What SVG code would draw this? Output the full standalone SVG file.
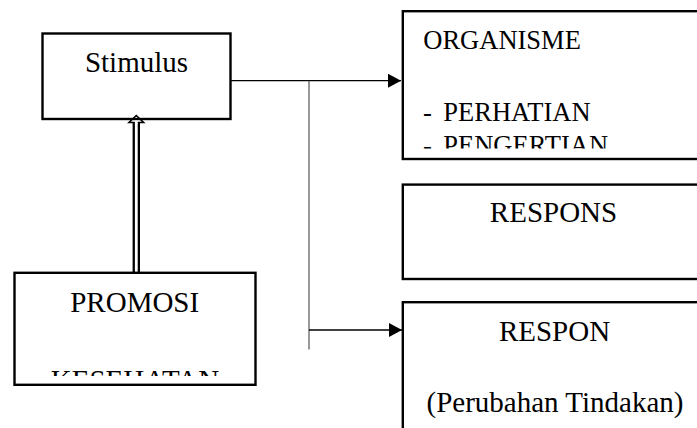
<svg xmlns="http://www.w3.org/2000/svg" width="697" height="428" viewBox="0 0 697 428">
<style>
.box{fill:#fff;stroke:#000;stroke-width:2.4}
.t{font-family:"Liberation Serif","Times New Roman",serif;font-size:29px;fill:#000}
.s{font-size:26.5px}
.c{text-anchor:middle}
.ln{stroke:#000;stroke-width:1.3;fill:none}
.gl{stroke:#555;stroke-width:1.2;fill:none}
</style>
<defs>
<marker id="ah" markerWidth="14" markerHeight="14" refX="13" refY="7" orient="auto" markerUnits="userSpaceOnUse">
<path d="M0,0 L13,7 L0,14 Z" fill="#000"/>
</marker>
<clipPath id="cOrg"><rect x="403" y="12" width="300" height="136.5"/></clipPath>
<clipPath id="cPro"><rect x="15" y="273" width="240" height="103"/></clipPath>
</defs>
<g id="connectors">
<line class="ln" x1="231" y1="80.7" x2="401" y2="80.7" marker-end="url(#ah)"/>
<line class="gl" x1="309" y1="80.7" x2="309" y2="349.5"/>
<line class="ln" x1="309" y1="330" x2="402" y2="330" marker-end="url(#ah)"/>
<line x1="136.3" y1="122" x2="136.3" y2="273" stroke="#000" stroke-width="7.4"/>
<line x1="136.3" y1="120" x2="136.3" y2="272" stroke="#fff" stroke-width="2.8"/>
<path d="M136.3,115.5 L129,122.5 L143.6,122.5 Z" fill="#fff" stroke="#000" stroke-width="1.6" stroke-linejoin="miter"/>
<line x1="136.3" y1="120.5" x2="136.3" y2="124" stroke="#fff" stroke-width="2.8"/>
</g>
<g id="stimulus">
<rect class="box" x="42.5" y="33.5" width="188" height="85.5" style="fill:none"/>
<text class="t c" x="136.5" y="71.7">Stimulus</text>
</g>
<g id="organisme">
<rect class="box" x="402.8" y="11.2" width="320" height="147.8"/>
<g clip-path="url(#cOrg)">
<text class="t s" x="423.3" y="49.3">ORGANISME</text>
<text class="t s" x="423" y="121">-</text>
<text class="t s" x="443.3" y="121">PERHATIAN</text>
<text class="t s" x="423" y="153.8">-</text>
<text class="t s" x="443.3" y="153.8">PENGERTIAN</text>
</g>
</g>
<g id="respons">
<rect class="box" x="402.8" y="184.6" width="320" height="94.4"/>
<text class="t c" x="553.5" y="222.3">RESPONS</text>
</g>
<g id="respon">
<rect class="box" x="402.8" y="302.2" width="320" height="150"/>
<text class="t c" x="554.5" y="341">RESPON</text>
<text class="t c" x="555" y="411.7">(Perubahan Tindakan)</text>
</g>
<g id="promosi">
<rect class="box" x="14.5" y="272.8" width="241" height="112"/>
<text class="t c" x="134.7" y="311.7">PROMOSI</text>
<g clip-path="url(#cPro)">
<text class="t c" x="135" y="389.5">KESEHATAN</text>
</g>
</g>
</svg>
